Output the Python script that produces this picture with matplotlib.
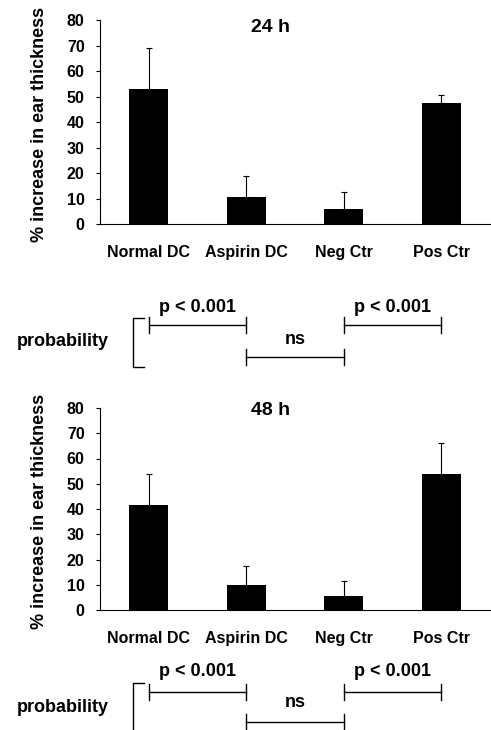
import numpy as np
import matplotlib
matplotlib.use("Agg")
import matplotlib.pyplot as plt

plt.rcParams["font.family"] = ["Liberation Sans", "DejaVu Sans"]
plt.rcParams["font.weight"] = "bold"

groups = ["Normal DC", "Aspirin DC", "Neg Ctr", "Pos Ctr"]
mean_24h = [53, 10.5, 6, 47.5]
upper_24h = [69, 19, 12.5, 50.5]
mean_48h = [41.5, 10, 5.5, 54]
upper_48h = [54, 17.5, 11.5, 66]
comparisons = [(0, 1, "p < 0.001"), (1, 2, "ns"), (2, 3, "p < 0.001")]

W, H = 491, 730
fig = plt.figure(figsize=(W / 100, H / 100), dpi=100)


def px_axes(x0, y_top, x1, y_bot):
    return fig.add_axes([x0 / W, 1 - y_bot / H, (x1 - x0) / W, (y_bot - y_top) / H])


def bar_panel(y_top, y_bot, means, uppers, title, title_y):
    ax = px_axes(100, y_top, 490, y_bot)
    x = np.arange(len(groups))
    ax.bar(x, means, width=0.4, color="black")
    err = np.array(uppers) - np.array(means)
    ax.errorbar(x, means, yerr=[np.zeros_like(err), err], fmt="none",
                ecolor="black", elinewidth=0.8, capsize=2, capthick=0.8)
    ax.set_xlim(-0.5, 3.5)
    ax.set_ylim(0, 80)
    ax.set_yticks(range(0, 81, 10))
    ax.set_xticks(x)
    ax.set_xticklabels(groups, fontsize=11.5, fontweight="bold")
    ax.tick_params(axis="x", length=0, pad=15)
    ax.tick_params(axis="y", length=3, width=0.8, pad=8, labelsize=11.5)
    for lab in ax.get_yticklabels():
        lab.set_fontweight("bold")
    ax.spines["top"].set_visible(False)
    ax.spines["right"].set_visible(False)
    ax.spines["left"].set_linewidth(0.8)
    ax.spines["bottom"].set_linewidth(0.8)
    ax.set_ylabel("% increase in ear thickness", fontsize=13, fontweight="bold")
    ax.yaxis.set_label_coords(-52 / 390, 0.49)
    ax.text(1.25, title_y, title, ha="center", va="center", fontsize=14, fontweight="bold")
    return ax


def prob_panel(y_top, y_bot, y_p, y_line, y_ns, y_ns_line, br_top, br_bot):
    ax = px_axes(100, y_top, 490, y_bot)
    ax.set_xlim(-0.5, 3.5)
    ax.set_ylim(y_bot, y_top)
    ax.axis("off")
    for a, b, label in comparisons:
        if label == "ns":
            yl, yt = y_ns_line, y_ns
        else:
            yl, yt = y_line, y_p
        ax.plot([a, b], [yl, yl], color="black", lw=1.0, clip_on=False)
        for e in (a, b):
            ax.plot([e, e], [yl - 8, yl + 8], color="black", lw=1.0, clip_on=False)
        ax.text((a + b) / 2, yt, label, ha="center", va="center",
                fontsize=13, fontweight="bold")
    bx = -0.164
    ax.plot([bx + 0.12, bx, bx, bx + 0.12], [br_top, br_top, br_bot, br_bot],
            color="black", lw=1.0, clip_on=False)
    fig.text(63 / W, 1 - ((y_line + y_ns_line) / 2) / H, "probability",
             ha="center", va="center", fontsize=13, fontweight="bold")


bar_panel(20, 224, mean_24h, upper_24h, "24 h", 77)
prob_panel(290, 375, 307, 325, 340, 357, 318, 367)
bar_panel(408, 610, mean_48h, upper_48h, "48 h", 79)
prob_panel(655, 730, 672, 692, 703, 722, 683, 745)

fig.savefig("out.png", dpi=100)
